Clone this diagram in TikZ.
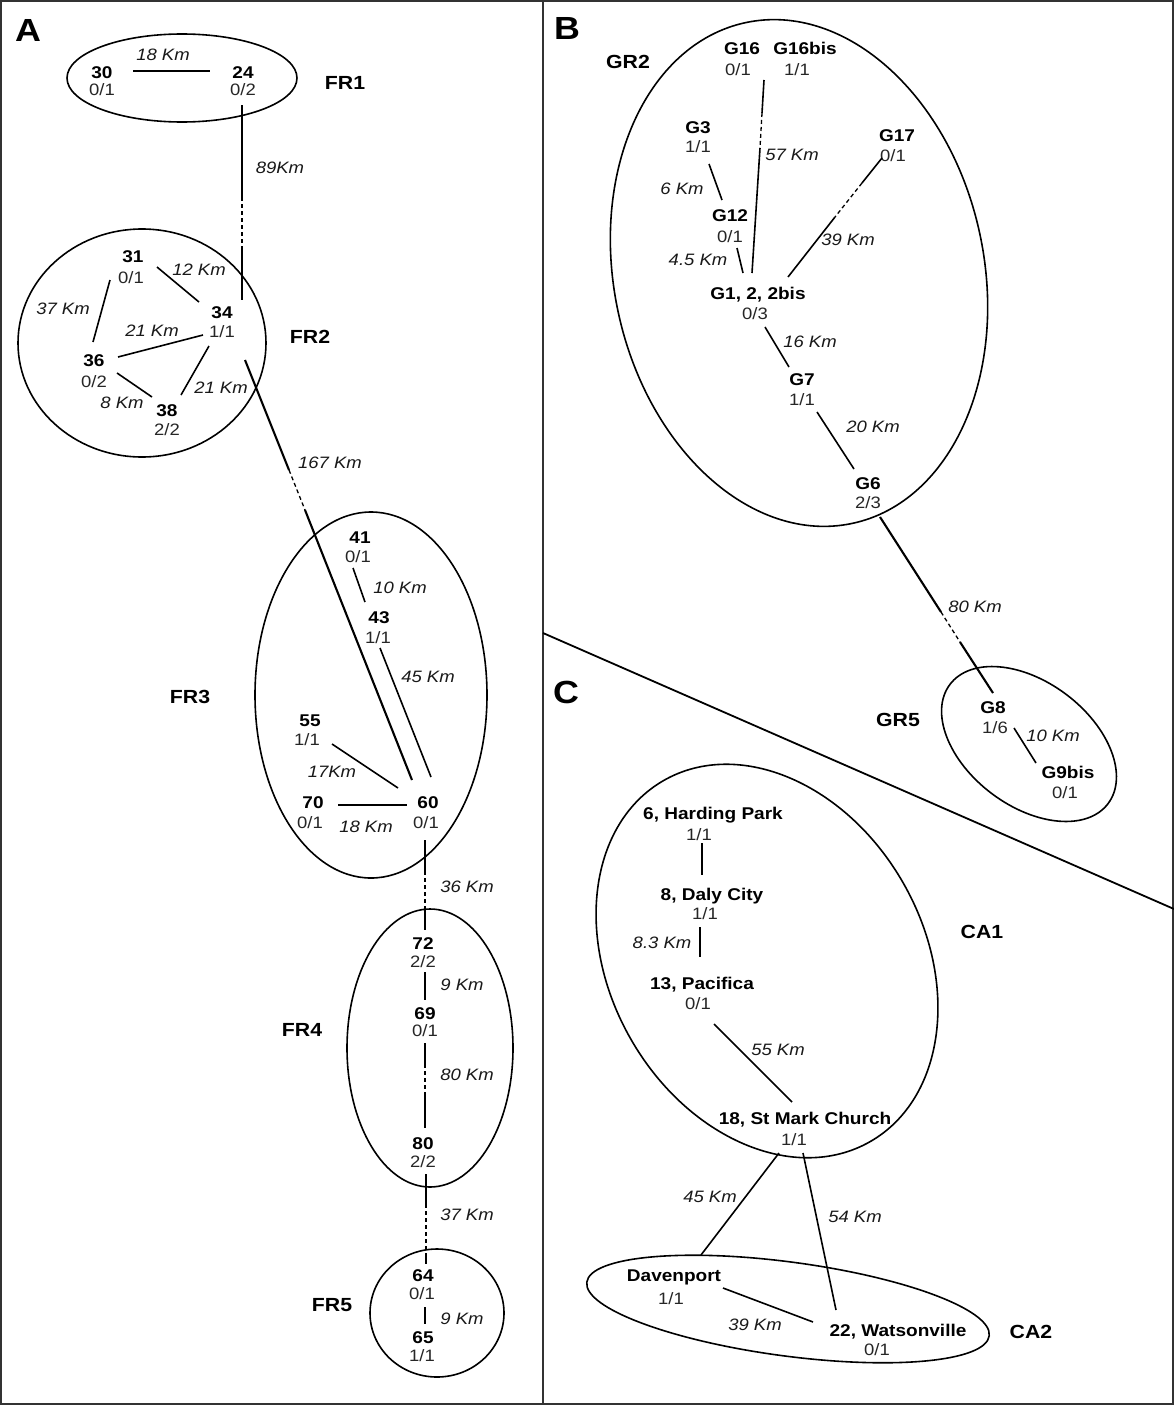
\documentclass[tikz,border=0pt]{standalone}
\usepackage{fontspec}
\setmainfont{Liberation Sans}[FakeStretch=1.12]
\begin{document}
\begin{tikzpicture}[x=1pt,y=-1pt,
 site/.style={font=\fontsize{17}{20}\selectfont\bfseries, inner sep=0pt, text height=12.2pt, text depth=0pt},
 cnt/.style={font=\fontsize{16.5}{20}\selectfont, inner sep=0pt, text=black!85, text height=11.8pt, text depth=0pt},
 km/.style={font=\fontsize{16.5}{20}\selectfont\itshape, inner sep=0pt, text=black!90, text height=11.8pt, text depth=0pt},
 grp/.style={font=\fontsize{19}{22}\selectfont\bfseries, inner sep=0pt, text height=13.6pt, text depth=0pt},
 panel/.style={font=\fontsize{32}{36}\selectfont\bfseries, inner sep=0pt, text height=23pt, text depth=0pt},
 link/.style={line width=1.6pt},
 heavylink/.style={line width=2.1pt},
 gap/.style={line width=1.3pt, dash pattern=on 4pt off 3pt},
 ring/.style={line width=1.6pt},
 panelframe/.style={line width=2.2pt, black!80}]
\useasboundingbox (0,0) rectangle (1174,1405);
\fill[white] (0,0) rectangle (1174,1405);

% ---------- frame ----------
\draw[panelframe] (1,1) rectangle (1173,1404);
\coordinate (divT) at (543,1);
\coordinate (divB) at (543,1404);
\draw[panelframe] (divT) -- (divB);
\coordinate (diagL) at (543,633);
\coordinate (diagR) at (1174,909);
\draw[line width=1.8pt] (diagL) -- (diagR);

% ================= PANEL A =================
\node[panel] (pA) at (28,30) {A};

% ellipses
\draw[ring] (182,78) ellipse [x radius=115pt, y radius=44pt];
\draw[ring] (142,343) ellipse [x radius=124pt, y radius=114pt];
\draw[ring] (371,695) ellipse [x radius=116pt, y radius=183pt];
\draw[ring] (430,1048) ellipse [x radius=83pt, y radius=139pt];
\draw[ring] (437,1313) ellipse [x radius=67pt, y radius=64pt];

% group labels
\node[grp] (FR1) at (345,83) {FR1};
\node[grp] (FR2) at (310,337) {FR2};
\node[grp] (FR3) at (190,697) {FR3};
\node[grp] (FR4) at (302,1030) {FR4};
\node[grp] (FR5) at (332,1305) {FR5};

% sites
\node[site] (s30) at (102,72) {30};  \node[cnt] (c30) at (102,90) {0/1};
\node[site] (s24) at (243,72) {24};  \node[cnt] (c24) at (243,90) {0/2};
\node[site] (s31) at (133,256) {31}; \node[cnt] (c31) at (131,278) {0/1};
\node[site] (s34) at (222,312) {34}; \node[cnt] (c34) at (222,332) {1/1};
\node[site] (s36) at (94,360) {36};  \node[cnt] (c36) at (94,382) {0/2};
\node[site] (s38) at (167,410) {38}; \node[cnt] (c38) at (167,430) {2/2};
\node[site] (s41) at (360,537) {41}; \node[cnt] (c41) at (358,557) {0/1};
\node[site] (s43) at (379,617) {43}; \node[cnt] (c43) at (378,638) {1/1};
\node[site] (s55) at (310,720) {55}; \node[cnt] (c55) at (307,740) {1/1};
\node[site] (s70) at (313,802) {70}; \node[cnt] (c70) at (310,823) {0/1};
\node[site] (s60) at (428,802) {60}; \node[cnt] (c60) at (426,823) {0/1};
\node[site] (s72) at (423,943) {72}; \node[cnt] (c72) at (423,962) {2/2};
\node[site] (s69) at (425,1013) {69}; \node[cnt] (c69) at (425,1031) {0/1};
\node[site] (s80) at (423,1143) {80}; \node[cnt] (c80) at (423,1162) {2/2};
\node[site] (s64) at (423,1275) {64}; \node[cnt] (c64) at (422,1294) {0/1};
\node[site] (s65) at (423,1337) {65}; \node[cnt] (c65) at (422,1356) {1/1};

% connector end points
\coordinate (a1) at (133,71);  \coordinate (a2) at (210,71);
\coordinate (b1) at (242,105); \coordinate (b2) at (242,197); \coordinate (b3) at (242,250); \coordinate (b4) at (242,300);
\coordinate (d1) at (157,267); \coordinate (d2) at (199,302);
\coordinate (e1) at (110,280); \coordinate (e2) at (93,342);
\coordinate (f1) at (118,357); \coordinate (f2) at (203,335);
\coordinate (g1) at (117,373); \coordinate (g2) at (152,397);
\coordinate (h1) at (209,346); \coordinate (h2) at (181,395);
\coordinate (k1) at (245,360); \coordinate (k2) at (289,470); \coordinate (k3) at (305,510); \coordinate (k4) at (412,780);
\coordinate (m1) at (353,568); \coordinate (m2) at (365,602);
\coordinate (n1) at (380,648); \coordinate (n2) at (431,777);
\coordinate (o1) at (332,744); \coordinate (o2) at (398,788);
\coordinate (q1) at (338,805); \coordinate (q2) at (407,805);
\coordinate (r1) at (425,840); \coordinate (r2) at (425,871); \coordinate (r3) at (425,907); \coordinate (r4) at (425,930);
\coordinate (t1) at (425,972); \coordinate (t2) at (425,1000);
\coordinate (u1) at (425,1043); \coordinate (u2) at (425,1064); \coordinate (u3) at (425,1094); \coordinate (u4) at (425,1128);
\coordinate (v1) at (426,1174); \coordinate (v2) at (426,1204); \coordinate (v3) at (426,1254); \coordinate (v4) at (426,1264);
\coordinate (w1) at (425,1307); \coordinate (w2) at (425,1324);

% connectors A
\draw[link] (a1) -- (a2);
\draw[link] (b1) -- (b2); \draw[gap] (b2) -- (b3); \draw[link] (b3) -- (b4);
\draw[link] (d1) -- (d2);
\draw[link] (e1) -- (e2);
\draw[link] (f1) -- (f2);
\draw[link] (g1) -- (g2);
\draw[link] (h1) -- (h2);
\draw[heavylink] (k1) -- (k2); \draw[gap] (k2) -- (k3); \draw[heavylink] (k3) -- (k4);
\draw[link] (m1) -- (m2);
\draw[link] (n1) -- (n2);
\draw[link] (o1) -- (o2);
\draw[link] (q1) -- (q2);
\draw[link] (r1) -- (r2); \draw[gap] (r2) -- (r3); \draw[link] (r3) -- (r4);
\draw[link] (t1) -- (t2);
\draw[line width=2.6pt] (u1) -- (u2); \draw[gap] (u2) -- (u3); \draw[link] (u3) -- (u4);
\draw[heavylink] (v1) -- (v2); \draw[gap] (v2) -- (v3); \draw[heavylink] (v3) -- (v4);
\draw[link] (w1) -- (w2);

% distances A
\node[km] (k3024) at (163,55) {18 Km};
\node[km] (k2434) at (280,168) {89Km};
\node[km] (k3134) at (199,270) {12 Km};
\node[km] (k3136) at (63,309) {37 Km};
\node[km] (k3634) at (152,331) {21 Km};
\node[km] (k3638) at (122,403) {8 Km};
\node[km] (k3438) at (221,388) {21 Km};
\node[km] (k3460) at (330,463) {167 Km};
\node[km] (k4143) at (400,588) {10 Km};
\node[km] (k4360) at (428,677) {45 Km};
\node[km] (k5560) at (332,772) {17Km};
\node[km] (k7060) at (366,827) {18 Km};
\node[km] (k6072) at (467,887) {36 Km};
\node[km] (k7269) at (462,985) {9 Km};
\node[km] (k6980) at (467,1075) {80 Km};
\node[km] (k8064) at (467,1215) {37 Km};
\node[km] (k6465) at (462,1319) {9 Km};

% ================= PANEL B =================
\node[panel] (pB) at (567,28) {B};
\draw[ring, rotate around={12:(799,273)}] (799,273) ellipse [x radius=185pt, y radius=256pt];
\draw[ring, rotate around={53:(1029,744)}] (1029,744) ellipse [x radius=62pt, y radius=99pt];
\node[grp] (GR2) at (628,62) {GR2};
\node[grp] (GR5) at (898,720) {GR5};

\node[site] (sG16) at (742,48) {G16};     \node[cnt] (cG16) at (738,70) {0/1};
\node[site] (sG16b) at (805,48) {G16bis}; \node[cnt] (cG16b) at (797,70) {1/1};
\node[site] (sG3) at (698,127) {G3};      \node[cnt] (cG3) at (698,147) {1/1};
\node[site] (sG17) at (897,135) {G17};    \node[cnt] (cG17) at (893,156) {0/1};
\node[site] (sG12) at (730,215) {G12};    \node[cnt] (cG12) at (730,237) {0/1};
\node[site] (sG1) at (758,293) {G1, 2, 2bis}; \node[cnt] (cG1) at (755,314) {0/3};
\node[site] (sG7) at (802,379) {G7};      \node[cnt] (cG7) at (802,400) {1/1};
\node[site] (sG6) at (868,483) {G6};      \node[cnt] (cG6) at (868,503) {2/3};
\node[site] (sG8) at (993,707) {G8};      \node[cnt] (cG8) at (995,728) {1/6};
\node[site] (sG9) at (1068,772) {G9bis};  \node[cnt] (cG9) at (1065,793) {0/1};

\coordinate (B1a) at (764,80);  \coordinate (B1b) at (762,113); \coordinate (B1c) at (760,148); \coordinate (B1d) at (752,273);
\coordinate (B2a) at (709,164); \coordinate (B2b) at (722,200);
\coordinate (B3a) at (737,248); \coordinate (B3b) at (743,273);
\coordinate (B4a) at (882,158); \coordinate (B4b) at (862,183); \coordinate (B4c) at (835,217); \coordinate (B4d) at (788,277);
\coordinate (B5a) at (765,327); \coordinate (B5b) at (789,367);
\coordinate (B6a) at (817,412); \coordinate (B6b) at (854,469);
\coordinate (B7a) at (880,517); \coordinate (B7b) at (941,612); \coordinate (B7c) at (960,642); \coordinate (B7d) at (993,693);
\coordinate (B8a) at (1014,728); \coordinate (B8b) at (1036,763);

\draw[link] (B1a) -- (B1b); \draw[gap] (B1b) -- (B1c); \draw[link] (B1c) -- (B1d);
\draw[link] (B2a) -- (B2b);
\draw[link] (B3a) -- (B3b);
\draw[link] (B4a) -- (B4b); \draw[gap] (B4b) -- (B4c); \draw[link] (B4c) -- (B4d);
\draw[link] (B5a) -- (B5b);
\draw[link] (B6a) -- (B6b);
\draw[heavylink] (B7a) -- (B7b); \draw[gap] (B7b) -- (B7c); \draw[heavylink] (B7c) -- (B7d);
\draw[link] (B8a) -- (B8b);

\node[km] (kG16) at (792,155) {57 Km};
\node[km] (kG3) at (682,189) {6 Km};
\node[km] (kG12) at (698,260) {4.5 Km};
\node[km] (kG17) at (848,240) {39 Km};
\node[km] (kG7) at (810,342) {16 Km};
\node[km] (kG6) at (873,427) {20 Km};
\node[km] (kG8) at (975,607) {80 Km};
\node[km] (kG9) at (1053,736) {10 Km};

% ================= PANEL C =================
\node[panel] (pC) at (566,692) {C};
\draw[ring, rotate around={29.7:(767,961)}] (767,961) ellipse [x radius=157pt, y radius=208pt];
\draw[ring, rotate around={-7.6:(788,1309)}] (788,1309) ellipse [x radius=203pt, y radius=47pt];
\node[grp] (CA1) at (982,932) {CA1};
\node[grp] (CA2) at (1031,1332) {CA2};

\node[site] (sHP) at (713,813) {6, Harding Park};     \node[cnt] (cHP) at (699,835) {1/1};
\node[site] (sDC) at (712,894) {8, Daly City};        \node[cnt] (cDC) at (705,914) {1/1};
\node[site] (sPA) at (702,983) {13, Pacifica};        \node[cnt] (cPA) at (698,1004) {0/1};
\node[site] (sSM) at (805,1118) {18, St Mark Church}; \node[cnt] (cSM) at (794,1140) {1/1};
\node[site] (sDV) at (674,1275) {Davenport};          \node[cnt] (cDV) at (671,1299) {1/1};
\node[site] (sWA) at (898,1330) {22, Watsonville};    \node[cnt] (cWA) at (877,1350) {0/1};

\coordinate (C1a) at (702,843);  \coordinate (C1b) at (702,875);
\coordinate (C2a) at (700,927);  \coordinate (C2b) at (700,957);
\coordinate (C3a) at (714,1024); \coordinate (C3b) at (792,1102);
\coordinate (C4a) at (779,1153); \coordinate (C4b) at (701,1255);
\coordinate (C5a) at (803,1153); \coordinate (C5b) at (836,1310);
\coordinate (C6a) at (723,1288); \coordinate (C6b) at (813,1322);

\draw[link] (C1a) -- (C1b);
\draw[link] (C2a) -- (C2b);
\draw[link] (C3a) -- (C3b);
\draw[link] (C4a) -- (C4b);
\draw[link] (C5a) -- (C5b);
\draw[link] (C6a) -- (C6b);

\node[km] (kDC) at (662,943) {8.3 Km};
\node[km] (kPA) at (778,1050) {55 Km};
\node[km] (kDV) at (710,1197) {45 Km};
\node[km] (kWA) at (855,1217) {54 Km};
\node[km] (kDW) at (755,1325) {39 Km};
\end{tikzpicture}
\end{document}
